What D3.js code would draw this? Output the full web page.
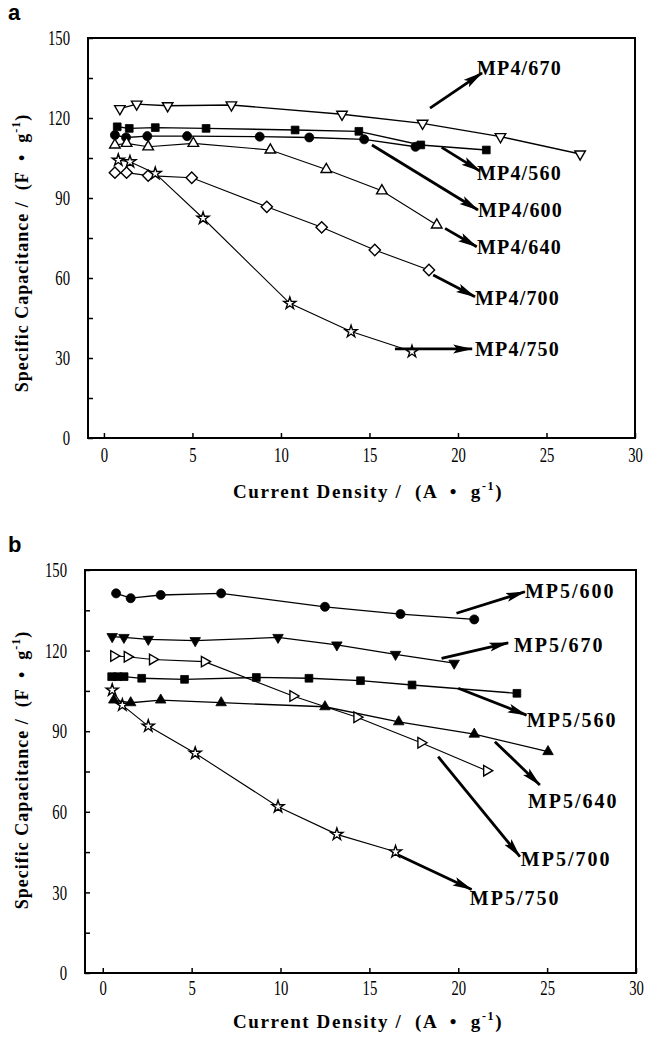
<!DOCTYPE html>
<html>
<head>
<meta charset="utf-8">
<script src="https://cdn.jsdelivr.net/npm/d3@7"></script>
<style>
  body { margin: 0; background: #fff; }
  svg { display: block; }
</style>
</head>
<body>
<svg id="chart"></svg>
<script>
// ---- data, panel a (MP4 series) ----
const mp4_670_x = [0.9, 1.85, 3.6, 7.2, 13.45, 18.0, 22.4, 26.9];
const mp4_670_y = [123.5, 125.2, 124.6, 124.9, 121.4, 118.0, 113.0, 106.5];
const mp4_560_x = [0.75, 1.43, 2.9, 5.77, 10.8, 14.4, 17.9, 21.6];
const mp4_560_y = [116.7, 116.1, 116.4, 116.1, 115.5, 115.0, 109.9, 108.0];
const mp4_600_x = [0.62, 1.25, 2.45, 4.7, 8.8, 11.6, 14.7, 17.6];
const mp4_600_y = [113.6, 112.7, 113.2, 113.2, 113.0, 112.7, 112.0, 109.2];
const mp4_640_x = [0.62, 1.28, 2.5, 5.05, 9.4, 12.56, 15.7, 18.8];
const mp4_640_y = [109.9, 110.5, 109.2, 110.5, 108.0, 100.7, 92.7, 79.9];
const mp4_700_x = [0.62, 1.28, 2.5, 4.96, 9.2, 12.3, 15.3, 18.36];
const mp4_700_y = [99.5, 99.5, 98.4, 97.6, 86.7, 79.0, 70.5, 63.0];
const mp4_750_x = [0.81, 1.47, 2.9, 5.6, 10.5, 13.96, 17.4];
const mp4_750_y = [104.2, 103.6, 99.2, 82.4, 50.5, 39.9, 32.4];

// ---- data, panel b (MP5 series) ----
const mp5_600_x = [0.75, 1.57, 3.26, 6.66, 12.5, 16.75, 20.9];
const mp5_600_y = [141.3, 139.5, 140.7, 141.3, 136.3, 133.6, 131.6];
const mp5_670_x = [0.53, 1.19, 2.56, 5.2, 9.86, 13.17, 16.47, 19.77];
const mp5_670_y = [125.2, 124.9, 124.2, 123.7, 124.9, 122.1, 118.6, 115.3];
const mp5_700_x = [0.62, 1.38, 2.8, 5.72, 10.7, 14.3, 17.9, 21.6];
const mp5_700_y = [118.0, 117.7, 116.7, 115.9, 103.1, 95.2, 85.7, 75.3];
const mp5_560_x = [0.5, 0.85, 1.2, 2.19, 4.6, 8.64, 11.6, 14.5, 17.4, 23.3];
const mp5_560_y = [110.3, 110.3, 110.3, 109.7, 109.3, 110.0, 109.7, 108.8, 107.2, 104.1];
const mp5_640_x = [0.62, 1.57, 3.26, 6.66, 12.5, 16.65, 20.9, 25.05];
const mp5_640_y = [101.6, 100.6, 101.6, 100.6, 99.1, 93.5, 88.9, 82.4];
const mp5_750_x = [0.53, 1.1, 2.56, 5.2, 9.86, 13.17, 16.47];
const mp5_750_y = [105.3, 99.7, 91.9, 81.8, 61.9, 51.6, 45.1];

// ---- ticks and labels ----
const xTicks = [0, 5, 10, 15, 20, 25, 30];
const yTicks = [0, 30, 60, 90, 120, 150];
const yMinorTicks = [15, 45, 75, 105, 135];

// annotation labels: [text, arrow start x, y, arrow tip x, y, label x, label baseline y] in data units
const labelsA = [
  ['MP4/670', 18.42, 123.7, 21.36, 136.9, 21.07, 136.1],
  ['MP4/560', 19.08, 109.0, 21.24, 100.1, 21.07, 96.7],
  ['MP4/600', 15.14, 109.9, 21.13, 85.5, 21.13, 83.0],
  ['MP4/640', 19.27, 78.6, 21.06, 71.7, 21.07, 69.0],
  ['MP4/700', 18.6, 61.1, 20.96, 53.0, 20.96, 49.9],
  ['MP4/750', 16.44, 33.4, 20.8, 33.4, 20.96, 30.7]
];
const labelsB = [
  ['MP5/600', 19.9, 133.9, 23.75, 141.9, 23.75, 139.6],
  ['MP5/670', 19.06, 117.1, 22.81, 122.9, 23.13, 119.5],
  ['MP5/560', 20.0, 106.0, 23.84, 96.0, 23.86, 91.6],
  ['MP5/640', 22.06, 86.1, 24.59, 70.0, 23.92, 61.4],
  ['MP5/700', 18.87, 80.5, 23.47, 43.3, 23.52, 39.8],
  ['MP5/750', 16.62, 43.9, 20.75, 31.1, 20.65, 25.3]
];

const pair = (xs, ys) => xs.map((x, i) => [x, ys[i]]);

const seriesA = [
  { pts: pair(mp4_670_x, mp4_670_y), sym: 'triDown', fill: false, w: 1.4 },
  { pts: pair(mp4_560_x, mp4_560_y), sym: 'square', fill: true, w: 1.4 },
  { pts: pair(mp4_600_x, mp4_600_y), sym: 'circle', fill: true, w: 1.4 },
  { pts: pair(mp4_640_x, mp4_640_y), sym: 'triUp', fill: false, w: 1.1 },
  { pts: pair(mp4_700_x, mp4_700_y), sym: 'diamond', fill: false, w: 1.1 },
  { pts: pair(mp4_750_x, mp4_750_y), sym: 'star', fill: false, w: 1.1 }
];
const seriesB = [
  { pts: pair(mp5_600_x, mp5_600_y), sym: 'circle', fill: true, w: 1.3 },
  { pts: pair(mp5_670_x, mp5_670_y), sym: 'triDown', fill: true, w: 1.3 },
  { pts: pair(mp5_700_x, mp5_700_y), sym: 'triRight', fill: false, w: 1.1 },
  { pts: pair(mp5_560_x, mp5_560_y), sym: 'square', fill: true, w: 1.3 },
  { pts: pair(mp5_640_x, mp5_640_y), sym: 'triUp', fill: true, w: 1.3 },
  { pts: pair(mp5_750_x, mp5_750_y), sym: 'star', fill: false, w: 1.1 }
];

const W = 646, H = 1039;
const svg = d3.select('#chart').attr('width', W).attr('height', H);

svg.append('defs').append('marker')
  .attr('id', 'head')
  .attr('markerUnits', 'userSpaceOnUse')
  .attr('viewBox', '0 0 20 10')
  .attr('refX', 19).attr('refY', 5)
  .attr('markerWidth', 20).attr('markerHeight', 10)
  .attr('orient', 'auto')
  .append('path')
  .attr('d', 'M0,0.5 L20,5 L0,9.5 L4,5 Z')
  .attr('fill', '#000');

function symbolPath(name) {
  const gen = {
    triDown: d3.symbol(d3.symbolTriangle, 48),
    triUp: d3.symbol(d3.symbolTriangle, 48),
    triRight: d3.symbol(d3.symbolTriangle, 48),
    square: d3.symbol(d3.symbolSquare, 60),
    circle: d3.symbol(d3.symbolCircle, 64),
    diamond: d3.symbol(d3.symbolSquare, 64),
    star: d3.symbol(d3.symbolStar, 45)
  };
  return gen[name]();
}
const symbolRot = { triDown: 180, triUp: 0, triRight: 90, square: 0, circle: 0, diamond: 45, star: 0 };

function drawPanel(opt) {
  const x = d3.scaleLinear().domain(opt.xDomain).range([opt.left, opt.right]);
  const y = d3.scaleLinear().domain([0, 150]).range([opt.bottom, opt.top]);
  const g = svg.append('g');

  // series lines
  const line = d3.line().x(d => x(d[0])).y(d => y(d[1]));
  opt.series.forEach(s => {
    g.append('path')
      .attr('d', line(s.pts))
      .attr('fill', 'none')
      .attr('stroke', '#000')
      .attr('stroke-width', s.w);
  });

  // markers
  opt.series.forEach(s => {
    g.selectAll(null)
      .data(s.pts)
      .enter()
      .append('path')
      .attr('d', symbolPath(s.sym))
      .attr('transform', d => `translate(${x(d[0])},${y(d[1])}) rotate(${symbolRot[s.sym]})`)
      .attr('fill', s.fill ? '#000' : '#fff')
      .attr('stroke', '#000')
      .attr('stroke-width', s.fill ? 0.8 : 1.4);
  });

  // arrows and labels
  opt.labels.forEach(l => {
    g.append('line')
      .attr('x1', x(l[1])).attr('y1', y(l[2]))
      .attr('x2', x(l[3])).attr('y2', y(l[4]))
      .attr('stroke', '#000')
      .attr('stroke-width', 2.8)
      .attr('marker-end', 'url(#head)');
    g.append('text')
      .attr('x', x(l[5])).attr('y', y(l[6]))
      .attr('font-family', '"Liberation Serif", "Times New Roman", serif')
      .attr('font-weight', 'bold')
      .attr('font-size', 20)
      .attr('letter-spacing', opt.labelSpacing)
      .text(l[0]);
  });

  // frame
  g.append('rect')
    .attr('x', opt.left).attr('y', opt.top)
    .attr('width', opt.right - opt.left).attr('height', opt.bottom - opt.top)
    .attr('fill', 'none')
    .attr('stroke', '#000')
    .attr('stroke-width', 2);

  // axes, ticks point inward
  const xAxis = g.append('g')
    .attr('transform', `translate(0,${opt.bottom})`)
    .call(d3.axisBottom(x).tickValues(xTicks).tickSize(-5).tickPadding(0));
  xAxis.select('.domain').remove();
  xAxis.selectAll('.tick line').attr('stroke-width', 1.5);
  xAxis.selectAll('.tick text')
    .attr('y', 0).attr('dy', null)
    .attr('transform', `translate(0,${opt.xLabelOffset}) scale(0.7,1)`)
    .attr('font-family', '"Liberation Serif", serif')
    .attr('font-size', 21)
    .attr('fill', '#000');

  const yAxis = g.append('g')
    .attr('transform', `translate(${opt.left},0)`)
    .call(d3.axisLeft(y).tickValues(yTicks).tickSize(-5).tickPadding(0));
  yAxis.select('.domain').remove();
  yAxis.selectAll('.tick line').attr('stroke-width', 1.5);
  yAxis.selectAll('.tick text')
    .attr('x', 0)
    .attr('transform', 'translate(-18,0) scale(0.7,1)')
    .attr('font-family', '"Liberation Serif", serif')
    .attr('font-size', 21)
    .attr('fill', '#000');

  g.append('g')
    .attr('transform', `translate(${opt.left},0)`)
    .call(d3.axisLeft(y).tickValues(yMinorTicks).tickSize(-5).tickFormat(''))
    .call(a => a.select('.domain').remove())
    .selectAll('.tick line').attr('stroke-width', 1.5);

  // axis titles
  const yt = g.append('text')
    .attr('transform', `translate(28,${opt.yTitleY}) rotate(-90)`)
    .attr('text-anchor', 'middle')
    .attr('font-family', '"Liberation Serif", serif')
    .attr('font-weight', 'bold')
    .attr('font-size', 18)
    .attr('letter-spacing', 1)
    .attr('xml:space', 'preserve');
  yt.append('tspan').text('Specific Capacitance /  (F  \u2022  g');
  yt.append('tspan').attr('font-size', 12).attr('dy', -8).text('-1');
  yt.append('tspan').attr('dy', 8).text(')');

  const xt = g.append('text')
    .attr('x', 368).attr('y', opt.xTitleY)
    .attr('text-anchor', 'middle')
    .attr('font-family', '"Liberation Serif", serif')
    .attr('font-weight', 'bold')
    .attr('font-size', 19)
    .attr('letter-spacing', 1.6)
    .attr('xml:space', 'preserve');
  xt.append('tspan').text('Current Density /  (A  \u2022  g');
  xt.append('tspan').attr('font-size', 12).attr('dy', -8).text('-1');
  xt.append('tspan').attr('dy', 8).text(')');

  // panel letter
  g.append('text')
    .attr('x', 8).attr('y', opt.top - 18)
    .attr('font-family', '"Liberation Sans", Arial, sans-serif')
    .attr('font-weight', 'bold')
    .attr('font-size', 22)
    .text(opt.letter);
}

drawPanel({
  letter: 'a', series: seriesA, labels: labelsA,
  xDomain: [-0.9, 30], left: 88, right: 635, top: 38, bottom: 438,
  xLabelOffset: 24, xTitleY: 498, yTitleY: 253, labelSpacing: 1.2
});
drawPanel({
  letter: 'b', series: seriesB, labels: labelsB,
  xDomain: [-1, 30], left: 85, right: 636, top: 570, bottom: 973,
  xLabelOffset: 22, xTitleY: 1028, yTitleY: 770, labelSpacing: 2
});
</script>
</body>
</html>
